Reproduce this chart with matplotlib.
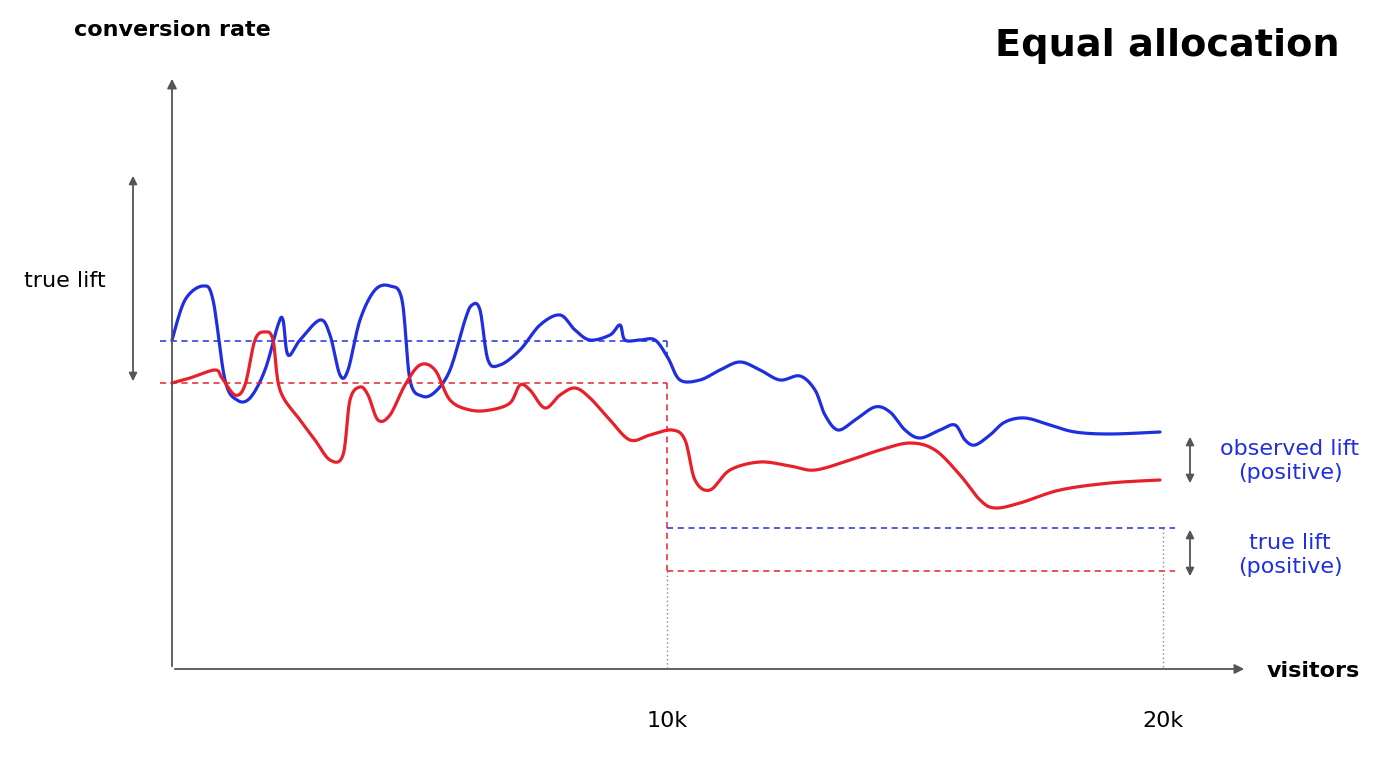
import numpy as np
import matplotlib
matplotlib.use("Agg")
import matplotlib.pyplot as plt

# data (pixel positions converted to visitors [k] and rate units)
PX_PER_K = 49.55
X0, Y0 = 172, 669
blue_px = [(172,340),(185,300),(203,286),(213,300),(225,380),(237,400),(250,398),(265,370),(278,325),(283,320),(288,355),(300,340),(320,320),(330,335),(340,375),(348,370),(360,320),(375,290),(390,286),(402,300),(410,380),(422,396),(435,392),(450,370),(465,320),(472,305),(480,310),(488,360),(500,365),(520,350),(540,325),(560,315),(575,330),(590,340),(610,335),(620,325),(625,340),(640,340),(655,340),(668,358),(680,380),(700,380),(720,370),(740,362),(760,370),(780,380),(800,376),(815,390),(825,415),(838,430),(855,420),(875,407),(890,412),(905,430),(920,438),(940,430),(955,425),(965,440),(975,445),(990,435),(1005,422),(1025,418),(1050,425),(1075,432),(1110,434),(1160,432)]
red_px = [(172,383),(190,378),(215,370),(222,378),(235,395),(245,385),(255,340),(265,332),(273,340),(280,390),(300,420),(315,440),(330,460),(343,455),(350,400),(360,387),(368,395),(378,420),(390,415),(405,385),(420,365),(435,370),(450,400),(470,410),(490,410),(510,403),(520,385),(530,390),(545,408),(560,395),(575,388),(590,398),(610,420),(630,440),(650,435),(672,430),(685,440),(695,480),(710,490),(730,470),(760,462),(790,466),(815,470),(850,460),(880,450),(910,443),(935,450),(960,475),(980,500),(995,508),(1020,503),(1060,490),(1110,483),(1160,480)]
blue_visitors = [(p[0]-X0)/PX_PER_K for p in blue_px]
blue_rate = [(Y0-p[1])/100 for p in blue_px]
red_visitors = [(p[0]-X0)/PX_PER_K for p in red_px]
red_rate = [(Y0-p[1])/100 for p in red_px]
blue_mean, red_mean = 3.28, 2.86
blue_true, red_true = 1.41, 0.98
tick_vals = [10, 20]
tick_labels = ["10k", "20k"]

def px_x(p): return (p-X0)/PX_PER_K
def px_y(p): return (Y0-p)/100

def smooth(x, y, n=12):
    x = np.asarray(x); y = np.asarray(y)
    P = np.column_stack([x, y])
    P = np.vstack([P[0], P, P[-1]])
    out = []
    t = np.linspace(0, 1, n, endpoint=False)[:, None]
    for i in range(1, len(P)-2):
        p0, p1, p2, p3 = P[i-1], P[i], P[i+1], P[i+2]
        out.append(0.5*((2*p1) + (-p0+p2)*t + (2*p0-5*p1+4*p2-p3)*t**2 + (-p0+3*p1-3*p2+p3)*t**3))
    out.append(P[-2][None, :])
    o = np.vstack(out)
    return o[:, 0], o[:, 1]

fig = plt.figure(figsize=(13.88, 7.6), dpi=100)
ax = fig.add_axes([0, 0, 1, 1])
ax.set_xlim(px_x(0), px_x(1388))
ax.set_ylim(px_y(760), px_y(0))
ax.axis("off")

BLUE, RED, GRAY = "#1f2fe0", "#e8202a", "#555555"
bx, by = smooth(blue_visitors, blue_rate)
rx, ry = smooth(red_visitors, red_rate)
ax.plot(bx, by, color=BLUE, lw=2.3, solid_capstyle="round")
ax.plot(rx, ry, color=RED, lw=2.3, solid_capstyle="round")

# axes arrows
ax.annotate("", xy=(0, px_y(76)), xytext=(0, 0), arrowprops=dict(arrowstyle="-|>", color=GRAY, lw=1.3, mutation_scale=14))
ax.annotate("", xy=(px_x(1247), 0), xytext=(0, 0), arrowprops=dict(arrowstyle="-|>", color=GRAY, lw=1.3, mutation_scale=14))

# dashed mean lines
ds = dict(lw=1.1, linestyle=(0, (4, 3)))
ax.plot([px_x(160), 10], [blue_mean, blue_mean], color=BLUE, **ds)
ax.plot([10, 10], [blue_mean, px_y(360)], color=BLUE, **ds)
ax.plot([px_x(160), 10], [red_mean, red_mean], color=RED, **ds)
ax.plot([10, 10], [red_mean, red_true], color=RED, **ds)
ax.plot([10, px_x(1175)], [blue_true, blue_true], color=BLUE, **ds)
ax.plot([10, px_x(1175)], [red_true, red_true], color=RED, **ds)
ax.plot([10, 10], [red_true, 0], color="#888888", lw=1, linestyle=(0, (1, 2)))
ax.plot([20, 20], [blue_true, 0], color="#888888", lw=1, linestyle=(0, (1, 2)))

def darrow(xp, y1p, y2p):
    ax.annotate("", xy=(px_x(xp), px_y(y1p)), xytext=(px_x(xp), px_y(y2p)),
                arrowprops=dict(arrowstyle="<|-|>", color=GRAY, lw=1.3, mutation_scale=12))
darrow(133, 173, 384)
darrow(1190, 434, 486)
darrow(1190, 527, 579)

for v, l in zip(tick_vals, tick_labels):
    ax.text(v, px_y(721), l, ha="center", va="center", fontsize=16)
ax.text(px_x(65), px_y(281), "true lift", ha="center", va="center", fontsize=16)
ax.text(px_x(1290), px_y(461), "observed lift\n(positive)", ha="center", va="center", fontsize=16, color=BLUE, linespacing=1.3)
ax.text(px_x(1290), px_y(555), "true lift\n(positive)", ha="center", va="center", fontsize=16, color=BLUE, linespacing=1.3)
ax.text(px_x(172), px_y(30), "conversion rate", ha="center", va="center", fontsize=16, fontweight="bold")
ax.text(px_x(1313), px_y(671), "visitors", ha="center", va="center", fontsize=16, fontweight="bold")
ax.text(px_x(1340), px_y(46), "Equal allocation", ha="right", va="center", fontsize=27.5, fontweight="bold")

fig.savefig("out.png", dpi=100)
